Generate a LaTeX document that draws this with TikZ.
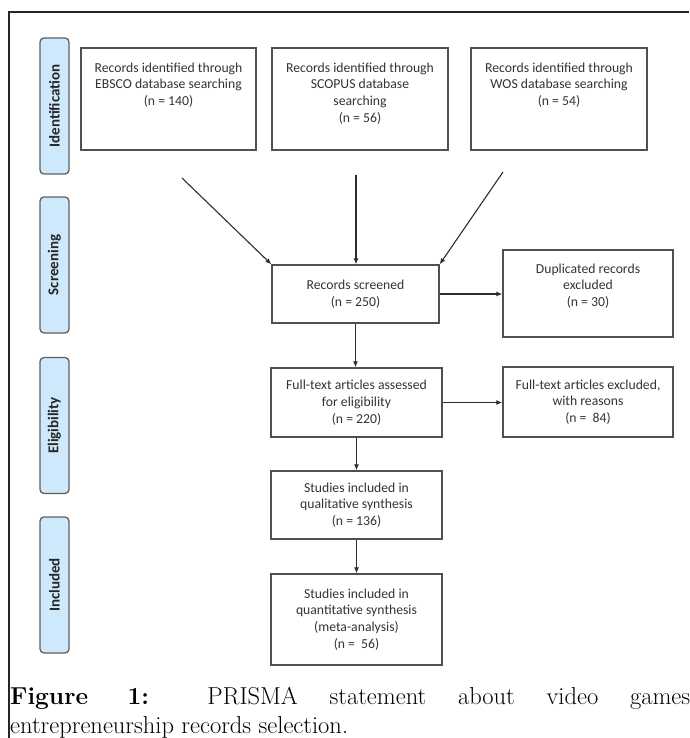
\documentclass[tikz,border=0pt]{standalone}
\usepackage{fontspec}
\newfontfamily\boxfont{Carlito}
\usetikzlibrary{arrows.meta}
\definecolor{stagefill}{RGB}{206,233,251}
\definecolor{stageline}{RGB}{95,95,95}
\definecolor{boxline}{RGB}{80,80,80}
\definecolor{flowcol}{RGB}{45,45,45}
\tikzset{
    recbox/.style={draw=boxline, line width=1.3pt, align=center, inner sep=0pt,
        font=\boxfont\fontsize{13.7}{16.7}\selectfont, text=black!80},
    toplbl/.style={anchor=north, yshift=-15pt, align=center, inner sep=0pt,
        font=\boxfont\fontsize{13.7}{16.7}\selectfont, text=black!80},
    stage/.style={draw=stageline, fill=stagefill, line width=1.3pt, rounded corners=4pt,
        rotate=90, minimum width=136pt, minimum height=29pt, inner sep=0pt,
        font=\boxfont\bfseries\fontsize{15}{18}\selectfont, text=black!85},
    flow/.style={draw=flowcol, line width=1.1pt, -{Latex[length=6pt,width=5pt]}},
    capline/.style={anchor=base west, inner sep=0pt, font=\fontsize{24.5}{29}\selectfont}
}
\begin{document}
\begin{tikzpicture}[x=1pt, y=-1pt]
    \useasboundingbox (0,0) rectangle (689,738);
    \draw[line width=1.6pt, black!85] (9,738) -- (9,12) -- (689,12);

    % stages
    \node[stage] (ident) at (54.5,106) {Identification};
    \node[stage] (screen) at (54.5,265) {Screening};
    \node[stage] (elig) at (54.5,425.5) {Eligibility};
    \node[stage] (incl) at (54.5,585) {Included};

    % records
    \node[recbox, minimum width=175pt, minimum height=102pt,
        label={[toplbl]north:Records identified through\\EBSCO database searching\\(n = 140)}] (ebsco) at (168.5,99) {};
    \node[recbox, minimum width=176pt, minimum height=102pt,
        label={[toplbl]north:Records identified through\\SCOPUS database\\searching\\(n = 56)}] (scopus) at (360,99) {};
    \node[recbox, minimum width=176pt, minimum height=102pt,
        label={[toplbl]north:Records identified through\\WOS database searching\\(n = 54)}] (wos) at (559,99) {};

    \node[recbox, minimum width=167pt, minimum height=58pt] (screened) at (355.5,294) {Records screened\\(n = 250)};
    \node[recbox, minimum width=170pt, minimum height=87pt,
        label={[toplbl, yshift=1pt]north:Duplicated records\\excluded\\(n = 30)}] (dupl) at (588,293.5) {};

    \node[recbox, minimum width=171pt, minimum height=69pt] (fulltext) at (356.5,402.5) {Full-text articles assessed\\for eligibility\\(n = 220)};
    \node[recbox, minimum width=170pt, minimum height=70pt] (excl) at (588,402) {Full-text articles excluded,\\with reasons\\(n =~ 84)};

    \node[recbox, minimum width=171pt, minimum height=68pt] (qual) at (356.5,505) {Studies included in\\qualitative synthesis\\(n = 136)};
    \node[recbox, minimum width=171pt, minimum height=91pt] (quant) at (356.5,619.5) {Studies included in\\quantitative synthesis\\(meta-analysis)\\(n =~ 56)};

    % connectors
    \coordinate (ebscoout) at (182,178);
    \coordinate (scopusout) at (356,175);
    \coordinate (wosout) at (503,172);
    \draw[flow] (ebscoout) -- (screened.north west);
    \draw[flow] (scopusout) -- (scopusout |- screened.north);
    \draw[flow] (wosout) -- (screened.north east);
    \draw[flow] (screened.east) -- (screened.east -| dupl.west);
    \draw[flow] (screened.south) -- (screened.south |- fulltext.north);
    \draw[flow] (fulltext.east) -- (fulltext.east -| excl.west);
    \draw[flow] (fulltext.south) -- (qual.north);
    \draw[flow] (qual.south) -- (quant.north);

    % caption
    \node[capline] (cap1) at (10,704) {\makebox[680pt][s]{\textbf{Figure 1:} PRISMA statement about video games}};
    \node[capline] (cap2) at (10,733) {entrepreneurship records selection.};
\end{tikzpicture}
\end{document}
